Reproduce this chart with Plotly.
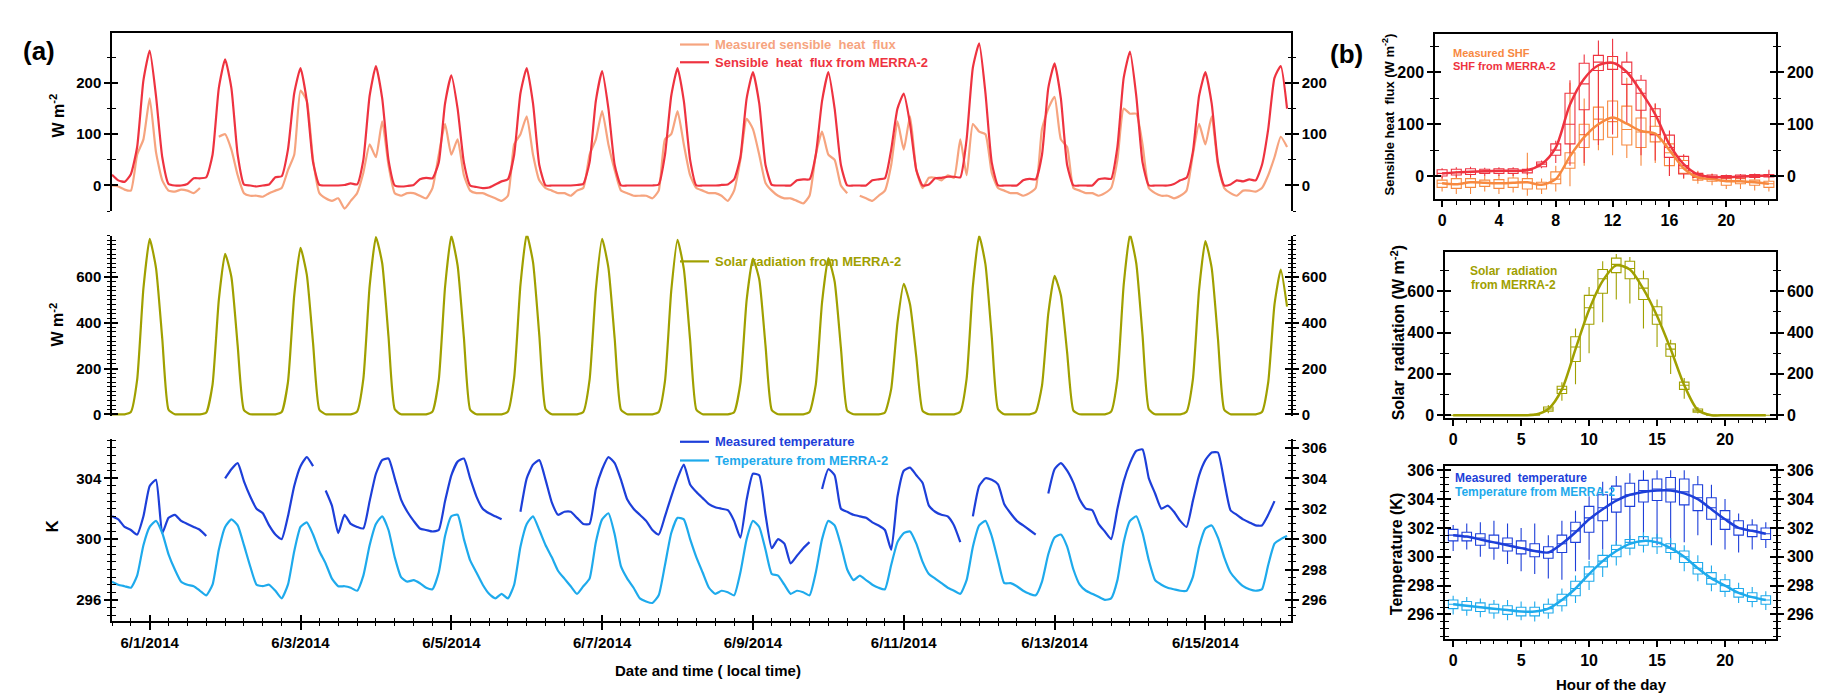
import plotly.graph_objects as go
from datetime import datetime, timedelta

FIG_W, FIG_H = 1842, 700
FONT = "Liberation Sans, Arial, sans-serif"

C_SHF_MEAS = "#F6A47F"
C_SHF_MERRA = "#EE3340"
C_SHF_MEAS_B = "#F7893F"
C_SOLAR = "#A0A000"
C_T_MEAS = "#1D3FD9"
C_T_MERRA = "#1EAAEC"

# ── panel (a): 2-hourly values from 6/1/2014 00:00 (local time) ──────────────
START = datetime(2014, 6, 1)
STEP_HOURS = 2

shf_measured = [
    0, -2, -8, -10, 60, 90, 170, 65, 10, -10, -12, -8,          # 6/1
    -10, -15, -5, None, None, 95, 100, 70, 20, -15, -20, -20,    # 6/2
    -22, -15, -10, -5, 30, 60, 185, 165, 50, -15, -25, -30,      # 6/3
    -25, -45, -30, -15, 25, 80, 55, 125, 40, -15, -20, -15,      # 6/4
    -15, -20, -25, -5, 60, 120, 60, 90, 20, -10, -15, -15,       # 6/5
    -20, -25, -30, -20, 80, 100, 135, 60, 10, -5, -10, -15,      # 6/6
    -15, -20, -10, -5, 60, 90, 145, 80, 30, -10, -15, -20,       # 6/7
    -20, -20, -25, -10, 90, 100, 145, 80, 20, -5, -10, -15,      # 6/8
    -15, -20, -30, -10, 50, 130, 110, 60, 5, -10, -20, -25,      # 6/9
    -25, -30, -35, -20, 60, 105, 60, 50, 0, -15, None, -20,      # 6/10
    -25, -30, -20, -10, 40, 125, 70, 135, 30, -5, 15, 15,        # 6/11
    10, 20, 15, 90, 20, 120, 105, 100, 25, -5, -10, -15,         # 6/12
    -15, -20, -15, -5, 110, 150, 173, 90, 75, -5, -10, -15,      # 6/13
    -15, -20, -15, -5, 50, 150, 140, 140, 80, -5, -15, -20,      # 6/14
    -20, -25, -20, -10, 60, 120, 80, 135, 40, -5, -15, -20,      # 6/15
    -10, -10, -12, -5, 20, 55, 95, 75,                           # 6/16
]

shf_merra = [
    21, 10, 7, 22, 75, 205, 263, 175, 55, 3, 0, 0,
    3, 14, 14, 16, 60, 190, 246, 190, 60, 2, 0, -2,
    0, 2, 16, 18, 70, 180, 229, 165, 45, 1, 0, 0,
    0, 1, 4, 2, 50, 175, 233, 170, 50, 0, -2, -1,
    1, 12, 15, 14, 45, 160, 215, 150, 45, 0, -3, -5,
    -4, 2, 8, 12, 60, 180, 229, 160, 40, 0, 0, 0,
    0, 0, 1, 3, 45, 165, 223, 150, 40, 0, 0, 0,
    0, 0, 0, 2, 60, 175, 229, 165, 50, 0, 0, 0,
    0, 1, 2, 12, 55, 170, 221, 160, 40, 1, 0, 0,
    0, 10, 12, 12, 60, 165, 221, 150, 40, 0, 0, 0,
    0, 10, 12, 14, 70, 150, 179, 120, 30, 0, 2, 14,
    15, 17, 17, 16, 90, 230, 277, 180, 45, 0, 0, 0,
    0, 10, 13, 12, 60, 190, 238, 170, 40, 0, 0, 0,
    0, 12, 14, 13, 75, 210, 261, 175, 45, 0, 0, 0,
    0, 3, 10, 15, 65, 175, 221, 160, 45, 0, 2, 10,
    8, 12, 10, 40, 110, 210, 233, 150,
]

solar_merra = [
    0, 0, 0, 10, 150, 550, 766, 640, 330, 20, 0, 0,
    0, 0, 0, 8, 130, 500, 701, 600, 300, 18, 0, 0,
    0, 0, 0, 10, 140, 520, 727, 610, 310, 20, 0, 0,
    0, 0, 0, 12, 155, 560, 774, 660, 340, 22, 0, 0,
    0, 0, 0, 12, 150, 555, 779, 650, 335, 20, 0, 0,
    0, 0, 0, 12, 160, 565, 787, 665, 345, 22, 0, 0,
    0, 0, 0, 10, 150, 545, 766, 640, 330, 20, 0, 0,
    0, 0, 0, 10, 145, 540, 762, 635, 325, 20, 0, 0,
    0, 0, 0, 9, 135, 500, 680, 590, 300, 18, 0, 0,
    0, 0, 0, 10, 130, 490, 682, 580, 290, 16, 0, 0,
    0, 0, 0, 8, 110, 400, 570, 480, 250, 15, 0, 0,
    0, 0, 0, 12, 155, 560, 780, 655, 340, 22, 0, 0,
    0, 0, 0, 10, 125, 440, 605, 520, 270, 16, 0, 0,
    0, 0, 0, 12, 155, 565, 785, 660, 345, 22, 0, 0,
    0, 0, 0, 11, 150, 545, 757, 640, 330, 20, 0, 0,
    0, 0, 0, 10, 140, 480, 632, 470,
]

temp_measured = [
    301.5, 301.3, 300.8, 300.6, 300.3, 301.5, 303.5, 303.9, 300.4, 301.4, 301.6, 301.2,
    301.0, 300.8, 300.6, 300.2, None, None, 304.0, 304.6, 305.0, 303.8, 302.8, 302.0,
    301.7, 300.9, 300.3, 300.0, 301.5, 303.5, 304.8, 305.4, 304.8, None, 303.2, 302.2,
    300.4, 301.6, 301.0, 300.8, 300.7, 302.5, 304.3, 305.2, 305.3, 304.0, 302.6, 301.8,
    301.2, 300.7, 300.6, 300.5, 300.6, 302.5, 304.2, 305.1, 305.3, 304.0, 302.8, 302.0,
    301.7, 301.5, 301.3, None, None, 301.8, 304.0, 304.9, 305.2, 303.9, 302.4, 301.6,
    301.8, 301.8, 301.4, 301.0, 301.0, 303.3, 304.6, 305.4, 305.0, 303.9, 302.6, 302.0,
    301.6, 301.2, 300.6, 300.3, 301.5, 302.8, 304.0, 304.9, 303.6, 303.1, 302.7, 302.3,
    302.1, 302.0, 301.9, 301.2, 300.1, 302.6, 304.3, 304.2, 301.6, 299.4, 300.0, 299.7,
    298.4, 298.9, 299.4, 299.8, None, 303.3, 304.6, 304.2, 302.0, 301.8, 301.6, 301.5,
    301.4, 301.1, 300.9, 300.6, 299.3, 302.8, 304.5, 304.7, 304.2, 303.7, 302.2, 301.8,
    301.6, 301.5, 300.9, 299.8, None, 301.5, 303.5, 304.0, 303.9, 303.6, 302.3, 301.7,
    301.2, 300.9, 300.6, 300.3, None, 303.0, 304.6, 305.0, 304.5, 303.7, 302.6, 302.0,
    301.9, 301.0, 300.5, 300.0, 302.0, 303.8, 305.0, 305.8, 305.9, 304.0, 303.0, 302.0,
    302.2, 301.8, 301.2, 300.8, 302.5, 304.2, 305.2, 305.7, 305.7, 303.8, 301.9, 301.6,
    301.3, 301.1, 300.9, 300.9, 301.6, 302.5, None, None,
]

temp_merra = [
    297.2, 297.0, 296.9, 296.8, 297.6, 299.6, 300.8, 301.2, 300.4, 299.0, 298.0, 297.2,
    297.0, 296.9, 296.6, 296.3, 297.0, 299.3, 300.8, 301.3, 300.9, 299.6, 298.2, 297.0,
    296.9, 297.0, 296.6, 296.1, 297.0, 299.2, 300.8, 301.1, 300.3, 299.2, 298.4, 297.4,
    296.9, 296.9, 296.8, 296.6, 297.6, 299.6, 301.0, 301.5, 300.6, 298.8, 297.5, 297.2,
    297.3, 297.1, 296.8, 296.7, 297.8, 300.2, 301.5, 301.6, 300.0, 298.6, 297.8, 297.0,
    296.4, 296.1, 296.4, 296.1, 297.0, 299.5, 301.0, 301.5, 300.6, 299.6, 298.8, 297.9,
    297.4, 296.9, 296.4, 296.9, 297.4, 299.8, 301.3, 301.7, 300.3, 298.2, 297.4, 296.8,
    296.1, 295.9, 295.8, 296.3, 298.3, 300.4, 301.4, 301.3, 300.0, 298.8, 297.8, 296.8,
    296.4, 296.6, 296.5, 296.3, 297.8, 300.0, 301.2, 300.8, 299.3, 297.7, 297.6, 297.0,
    296.4, 296.6, 296.5, 296.3, 297.8, 300.0, 301.2, 300.9, 299.6, 298.0, 297.3, 297.6,
    297.3, 297.0, 296.8, 296.7, 298.3, 299.8, 300.4, 300.5, 299.7, 298.5, 297.7, 297.4,
    297.1, 296.8, 296.6, 296.4, 297.3, 299.5, 300.9, 301.2, 300.2, 298.6, 297.1, 297.1,
    296.9, 296.6, 296.4, 296.3, 297.2, 299.0, 300.1, 300.3, 299.5, 298.0, 297.0, 296.6,
    296.4, 296.2, 296.0, 296.1, 297.3, 299.8, 301.2, 301.5, 300.4, 298.6, 297.3, 297.0,
    296.8, 296.7, 296.6, 296.6, 297.5, 299.5, 300.7, 300.9, 300.1, 298.8, 297.8, 297.3,
    296.9, 296.7, 296.6, 296.7, 298.3, 299.7, 300.0, 300.2,
]

# ── panel (b): hourly statistics (hour of day 0..23) ────────────────────────
HOURS = list(range(24))

shf_meas_mean = [-14, -16, -12, -13, -14, -13, -12, -17, -6, 38, 75, 100, 113, 101, 87, 82, 50, 15, -3, -6, -10, -10, -12, -15]
shf_meas_q1 = [-22, -24, -22, -20, -24, -22, -25, -25, -15, 15, 55, 70, 75, 60, 55, 66, 20, 5, -8, -10, -18, -15, -18, -22]
shf_meas_med = [-14, -16, -12, -13, -14, -13, -12, -17, -6, 25, 80, 110, 105, 90, 85, 80, 45, 15, -2, -5, -10, -10, -12, -15]
shf_meas_q3 = [-8, -5, -5, -8, -7, -4, -5, -12, 8, 45, 100, 133, 145, 135, 112, 96, 62, 30, 3, -3, -5, -5, -8, -10]
shf_meas_lo = [-30, -35, -35, -30, -35, -32, -38, -35, -30, -20, 20, 50, 40, 35, 20, 25, 0, -5, -15, -18, -25, -25, -28, -30]
shf_meas_hi = [-2, 10, 5, 0, 2, 5, 45, -5, 20, 180, 150, 215, 240, 190, 170, 140, 80, 40, 10, 5, 0, 0, -2, -5]

shf_merra_mean = [5, 7, 8, 9, 10, 10, 11, 23, 55, 138, 188, 214, 219, 201, 163, 119, 61, 23, 3, -2, -2, -1, 0, 1]
shf_merra_q1 = [0, 2, 3, 5, 5, 5, 6, 18, 40, 62, 128, 204, 206, 177, 127, 80, 36, 4, -3, -4, -4, -4, -3, -2]
shf_merra_med = [5, 7, 8, 9, 10, 10, 11, 23, 50, 100, 178, 220, 218, 200, 160, 115, 55, 20, 0, -2, -2, -1, 0, 0]
shf_merra_q3 = [12, 13, 14, 13, 14, 14, 13, 27, 62, 160, 218, 233, 231, 220, 185, 130, 79, 38, 5, 2, 1, 2, 3, 3]
shf_merra_lo = [-5, -3, -2, 0, 0, 0, 2, 15, 25, 20, 25, 60, 80, 100, 40, 30, 0, -5, -8, -8, -8, -8, -6, -5]
shf_merra_hi = [15, 17, 18, 16, 17, 17, 16, 30, 68, 185, 235, 262, 265, 240, 195, 140, 88, 42, 8, 4, 3, 4, 5, 12]

solar_mean = [0, 0, 0, 0, 0, 0, 2, 30, 125, 320, 510, 650, 725, 705, 610, 480, 320, 145, 25, 0, 0, 0, 0, 0]
solar_q1 = [0, 0, 0, 0, 0, 0, 0, 20, 105, 260, 440, 590, 690, 660, 560, 440, 285, 125, 15, 0, 0, 0, 0, 0]
solar_med = [0, 0, 0, 0, 0, 0, 1, 30, 125, 330, 520, 660, 730, 710, 615, 485, 320, 145, 22, 0, 0, 0, 0, 0]
solar_q3 = [0, 0, 0, 0, 0, 0, 4, 40, 140, 380, 580, 705, 760, 745, 660, 525, 345, 160, 30, 1, 0, 0, 0, 0]
solar_lo = [0, 0, 0, 0, 0, 0, 0, 10, 70, 150, 300, 450, 560, 540, 420, 330, 200, 80, 8, 0, 0, 0, 0, 0]
solar_hi = [0, 0, 0, 0, 0, 0, 8, 50, 160, 420, 620, 745, 780, 765, 700, 560, 365, 180, 40, 2, 0, 0, 0, 0]

t_meas_mean = [301.5, 301.4, 301.2, 301.0, 300.8, 300.6, 300.4, 300.3, 300.9, 301.7, 302.6, 303.3, 303.9, 304.3, 304.5, 304.6, 304.6, 304.4, 304.0, 303.3, 302.6, 302.0, 301.8, 301.6]
t_meas_q1 = [301.1, 301.1, 300.8, 300.6, 300.4, 300.2, 300.0, 299.9, 300.3, 301.0, 301.7, 302.5, 303.1, 303.5, 303.8, 303.9, 303.8, 303.6, 303.2, 302.6, 301.9, 301.5, 301.4, 301.2]
t_meas_med = [301.5, 301.4, 301.3, 301.0, 300.9, 300.6, 300.4, 300.3, 300.9, 301.8, 302.7, 303.4, 304.0, 304.3, 304.6, 304.7, 304.7, 304.5, 304.1, 303.4, 302.6, 302.0, 301.8, 301.6]
t_meas_q3 = [301.9, 301.7, 301.6, 301.5, 301.3, 301.1, 300.9, 300.7, 301.5, 302.4, 303.5, 304.3, 304.9, 305.1, 305.3, 305.4, 305.5, 305.4, 305.0, 304.1, 303.2, 302.5, 302.2, 302.0]
t_meas_lo = [300.4, 300.5, 300.0, 299.8, 299.5, 299.0, 298.8, 298.5, 298.4, 299.0, 299.8, 300.5, 300.8, 301.0, 301.2, 300.8, 300.5, 301.0, 301.5, 300.8, 300.5, 300.3, 300.5, 300.6]
t_meas_hi = [302.2, 302.3, 302.4, 302.5, 302.3, 302.0, 302.3, 301.5, 302.5, 303.2, 304.2, 305.2, 305.6, 305.8, 306.0, 306.0, 306.0, 306.0, 305.6, 305.0, 304.0, 303.0, 302.6, 302.4]

t_merra_mean = [296.7, 296.6, 296.5, 296.4, 296.3, 296.2, 296.2, 296.4, 297.0, 297.8, 298.8, 299.7, 300.4, 300.9, 301.1, 301.0, 300.6, 300.0, 299.2, 298.5, 298.0, 297.5, 297.2, 297.0]
t_merra_q1 = [296.4, 296.3, 296.2, 296.1, 296.0, 295.9, 295.9, 296.1, 296.6, 297.3, 298.3, 299.3, 300.0, 300.6, 300.8, 300.7, 300.3, 299.6, 298.8, 298.1, 297.6, 297.2, 296.9, 296.7]
t_merra_med = [296.7, 296.6, 296.5, 296.4, 296.3, 296.2, 296.2, 296.4, 297.0, 297.8, 298.8, 299.7, 300.5, 301.0, 301.1, 301.0, 300.6, 300.0, 299.2, 298.5, 298.0, 297.5, 297.2, 297.0]
t_merra_q3 = [297.0, 296.9, 296.8, 296.7, 296.6, 296.5, 296.5, 296.7, 297.4, 298.3, 299.3, 300.1, 300.8, 301.2, 301.4, 301.3, 300.9, 300.4, 299.6, 298.9, 298.4, 297.8, 297.5, 297.3]
t_merra_lo = [296.0, 295.9, 295.8, 295.7, 295.6, 295.6, 295.5, 295.7, 296.2, 296.8, 297.7, 298.6, 299.4, 300.1, 300.3, 300.2, 299.8, 299.0, 298.3, 297.6, 297.2, 296.8, 296.5, 296.3]
t_merra_hi = [297.3, 297.2, 297.1, 297.0, 297.0, 296.9, 296.9, 297.1, 297.8, 298.7, 299.7, 300.5, 301.1, 301.5, 301.7, 301.6, 301.3, 300.8, 300.1, 299.4, 298.8, 298.2, 297.9, 297.6]


def px(x):
    return x / FIG_W


def py(y):
    return 1 - y / FIG_H


def bold(size, color="black"):
    return dict(family=FONT, size=size, color=color, weight="bold")


TICK = dict(tickwidth=1.5, tickcolor="black")
MINOR = dict(ticklen=3.5, tickwidth=1.2, tickcolor="black")


def yax(dom, rng, dtick, minor, anchor, side="left", overlaying=None, size=15, inside=False):
    d = dict(
        domain=dom, range=rng, dtick=dtick, tick0=0, anchor=anchor, side=side,
        showline=not inside, linecolor="black", linewidth=1.5,
        ticks="inside" if inside else "outside", ticklen=6, **TICK,
        showgrid=False, zeroline=False, tickfont=bold(size),
        showticklabels=not inside,
        minor=dict(dtick=minor, tick0=0, ticks="inside" if inside else "outside", **MINOR),
    )
    if overlaying:
        d["overlaying"] = overlaying
    return d


times = [START + timedelta(hours=STEP_HOURS * i) for i in range(len(shf_merra))]

fig = go.Figure()


def line(x, y, color, xa, ya, width=2.2, smooth=0.5):
    fig.add_trace(go.Scatter(
        x=x, y=y, mode="lines", xaxis=xa, yaxis=ya, showlegend=False,
        line=dict(color=color, width=width, shape="spline", smoothing=smooth),
        connectgaps=False, hoverinfo="skip",
    ))


def box(stats, color, xa, ya):
    q1, med, q3, lo, hi = stats
    fig.add_trace(go.Box(
        x=HOURS, q1=q1, median=med, q3=q3, lowerfence=lo, upperfence=hi,
        xaxis=xa, yaxis=ya, showlegend=False, boxpoints=False,
        fillcolor="rgba(0,0,0,0)", line=dict(color=color, width=1.1),
        whiskerwidth=0, width=0.7, hoverinfo="skip",
    ))


# panel (a)
line(times, shf_measured, C_SHF_MEAS, "x", "y")
line(times, shf_merra, C_SHF_MERRA, "x", "y")
line(times, solar_merra, C_SOLAR, "x2", "y2")
line(times, temp_measured, C_T_MEAS, "x3", "y3")
line(times, temp_merra, C_T_MERRA, "x3", "y3")

# panel (b)
box((shf_meas_q1, shf_meas_med, shf_meas_q3, shf_meas_lo, shf_meas_hi), C_SHF_MEAS_B, "x4", "y7")
box((shf_merra_q1, shf_merra_med, shf_merra_q3, shf_merra_lo, shf_merra_hi), C_SHF_MERRA, "x4", "y7")
line(HOURS, shf_meas_mean, C_SHF_MEAS_B, "x4", "y7", width=2.5, smooth=0.8)
line(HOURS, shf_merra_mean, C_SHF_MERRA, "x4", "y7", width=2.5, smooth=0.8)
box((solar_q1, solar_med, solar_q3, solar_lo, solar_hi), C_SOLAR, "x5", "y8")
line(HOURS, solar_mean, C_SOLAR, "x5", "y8", width=2.5, smooth=0.8)
box((t_meas_q1, t_meas_med, t_meas_q3, t_meas_lo, t_meas_hi), C_T_MEAS, "x6", "y9")
box((t_merra_q1, t_merra_med, t_merra_q3, t_merra_lo, t_merra_hi), C_T_MERRA, "x6", "y9")
line(HOURS, t_meas_mean, C_T_MEAS, "x6", "y9", width=2.5, smooth=0.8)
line(HOURS, t_merra_mean, C_T_MERRA, "x6", "y9", width=2.5, smooth=0.8)

XA = [px(104), px(1283)]
XB_TOP = [px(1427), px(1768)]
XB = [px(1437), px(1768)]
T_RANGE = ["2014-06-01 00:00", "2014-06-16 15:15"]

D_TOPA = [py(202), py(21)]
D_MIDA = [py(410), py(227)]
D_BOTA = [py(618), py(433)]
D_TOPB = [py(190), py(22)]
D_MIDB = [py(412), py(243)]
D_BOTB = [py(636), py(461)]

R_TOPA, R_MIDA, R_BOTA = [-50, 298], [-8, 780], [294.6, 306.6]
R_TOPB, R_MIDB, R_BOTB = [-45, 275], [-14, 792], [294.3, 306.27]

# y-axis specs: (axis number, domain, range, dtick, minor dtick, x anchor, label size)
Y_SPECS = [
    (1, D_TOPA, R_TOPA, 100, 50, "x", 15),
    (2, D_MIDA, R_MIDA, 200, 20, "x2", 15),
    (3, D_BOTA, R_BOTA, 4, 0.5, "x3", 15),
    (7, D_TOPB, R_TOPB, 100, 50, "x4", 16),
    (8, D_MIDB, R_MIDB, 200, 100, "x5", 16),
    (9, D_BOTB, R_BOTB, 2, 0.5, "x6", 16),
]
RIGHT_OF = {1: (4, 100), 2: (5, 200), 3: (6, 2), 7: (10, 100), 8: (11, 200), 9: (12, 2)}

axes = {}
extra = 13
for n, dom, rng, dt, mn, xa, size in Y_SPECS:
    main = "y" if n == 1 else f"y{n}"
    axes["yaxis" if n == 1 else f"yaxis{n}"] = yax(dom, rng, dt, mn, xa, size=size)
    rn, rdt = RIGHT_OF[n]
    axes[f"yaxis{rn}"] = yax(dom, rng, rdt, mn, xa, side="right", overlaying=main, size=size)
    # inside ticks on both sides, so the ticks cross the axis lines
    axes[f"yaxis{extra}"] = yax(dom, rng, dt, mn, xa, overlaying=main, inside=True)
    axes[f"yaxis{extra + 1}"] = yax(dom, rng, rdt, mn, xa, side="right", overlaying=main, inside=True)
    # empty traces so the duplicate axes are drawn
    for k in (rn, extra, extra + 1):
        fig.add_trace(go.Scatter(x=[], y=[], xaxis=xa, yaxis=f"y{k}", showlegend=False, hoverinfo="skip"))
    extra += 2

hidden_x = dict(domain=XA, type="date", range=T_RANGE, showgrid=False, zeroline=False,
                showticklabels=False, ticks="")

xb_common = dict(
    showline=True, linecolor="black", linewidth=1.5, mirror=True,
    ticks="outside", ticklen=6, **TICK, tick0=0,
    showgrid=False, zeroline=False, tickfont=bold(16),
    minor=dict(dtick=1, tick0=0, ticks="outside", **MINOR),
)

date_ticks = dict(tick0="2014-06-01 12:00", dtick=2 * 86400000)
date_minor = dict(tick0="2014-06-01", dtick=6 * 3600000)

fig.add_trace(go.Scatter(x=[], y=[], xaxis="x7", yaxis="y3", showlegend=False, hoverinfo="skip"))

fig.update_layout(
    width=FIG_W, height=FIG_H,
    margin=dict(l=0, r=0, t=0, b=0),
    paper_bgcolor="white", plot_bgcolor="white",
    boxmode="overlay",
    xaxis=dict(hidden_x, anchor="y", side="top", showline=True, linecolor="black",
               linewidth=1.5, tickmode="array", tickvals=[]),
    xaxis2=dict(hidden_x, anchor="y2", visible=False, tickmode="array", tickvals=[]),
    xaxis3=dict(
        hidden_x, anchor="y3", showline=True, linecolor="black", linewidth=1.5,
        **date_ticks, tickformat="%-m/%-d/%Y", showticklabels=True,
        ticks="outside", ticklen=7, **TICK, tickfont=bold(15),
        minor=dict(date_minor, ticks="outside", **MINOR),
    ),
    xaxis7=dict(
        hidden_x, anchor="y3", overlaying="x3", **date_ticks,
        ticks="inside", ticklen=6, **TICK,
        minor=dict(date_minor, ticks="inside", **MINOR),
    ),
    xaxis4=dict(xb_common, domain=XB_TOP, anchor="y7", range=[-0.5, 23.5], dtick=4),
    xaxis5=dict(xb_common, domain=XB, anchor="y8", range=[-0.6, 23.75], dtick=5),
    xaxis6=dict(xb_common, domain=XB, anchor="y9", range=[-0.6, 23.75], dtick=5),
    **axes,
)


def text(x, y, s, font, angle=0, xanchor="center"):
    fig.add_annotation(x=px(x), y=py(y), xref="paper", yref="paper", text=s,
                       showarrow=False, font=font, textangle=angle,
                       xanchor=xanchor, yanchor="middle")


def legend_entry(y, label, color):
    fig.add_shape(type="line", xref="paper", yref="paper",
                  x0=px(672), x1=px(701), y0=py(y), y1=py(y),
                  line=dict(color=color, width=2.2))
    text(705, y, label, bold(13, color), xanchor="left")


# panel labels and axis titles
text(31, 40, "(a)", bold(26))
text(1338, 43, "(b)", bold(26))
text(49, 105, "W m<sup>-2</sup>", bold(16), angle=-90)
text(49, 317, "W m<sup>-2</sup>", bold(16), angle=-90)
text(45, 522, "K", bold(17), angle=-90)
text(700, 668, "Date and time ( local time)", bold(15))
text(1380, 104, "Sensible heat  flux (W m<sup>-2</sup>)", bold(13), angle=-90)
text(1390, 326, "Solar  radiation (W m<sup>-2</sup>)", bold(16), angle=-90)
text(1388, 550, "Temperature (K)", bold(16), angle=-90)
text(1603, 682, "Hour of the day", bold(15))

# legends, panel (a)
legend_entry(33, "Measured sensible  heat  flux", C_SHF_MEAS)
legend_entry(51, "Sensible  heat  flux from MERRA-2", C_SHF_MERRA)
legend_entry(253, "Solar radiation from MERRA-2", C_SOLAR)
legend_entry(436, "Measured temperature", C_T_MEAS)
legend_entry(455, "Temperature from MERRA-2", C_T_MERRA)

# legends, panel (b)
text(1443, 42, "Measured SHF", bold(11, C_SHF_MEAS_B), xanchor="left")
text(1443, 55, "SHF from MERRA-2", bold(11, C_SHF_MERRA), xanchor="left")
text(1505, 263, "Solar  radiation", bold(12, C_SOLAR))
text(1505, 277, "from MERRA-2", bold(12, C_SOLAR))
text(1445, 473, "Measured  temperature", bold(12, C_T_MEAS), xanchor="left")
text(1445, 487, "Temperature from MERRA-2", bold(12, C_T_MERRA), xanchor="left")

fig.write_html("out.html")
